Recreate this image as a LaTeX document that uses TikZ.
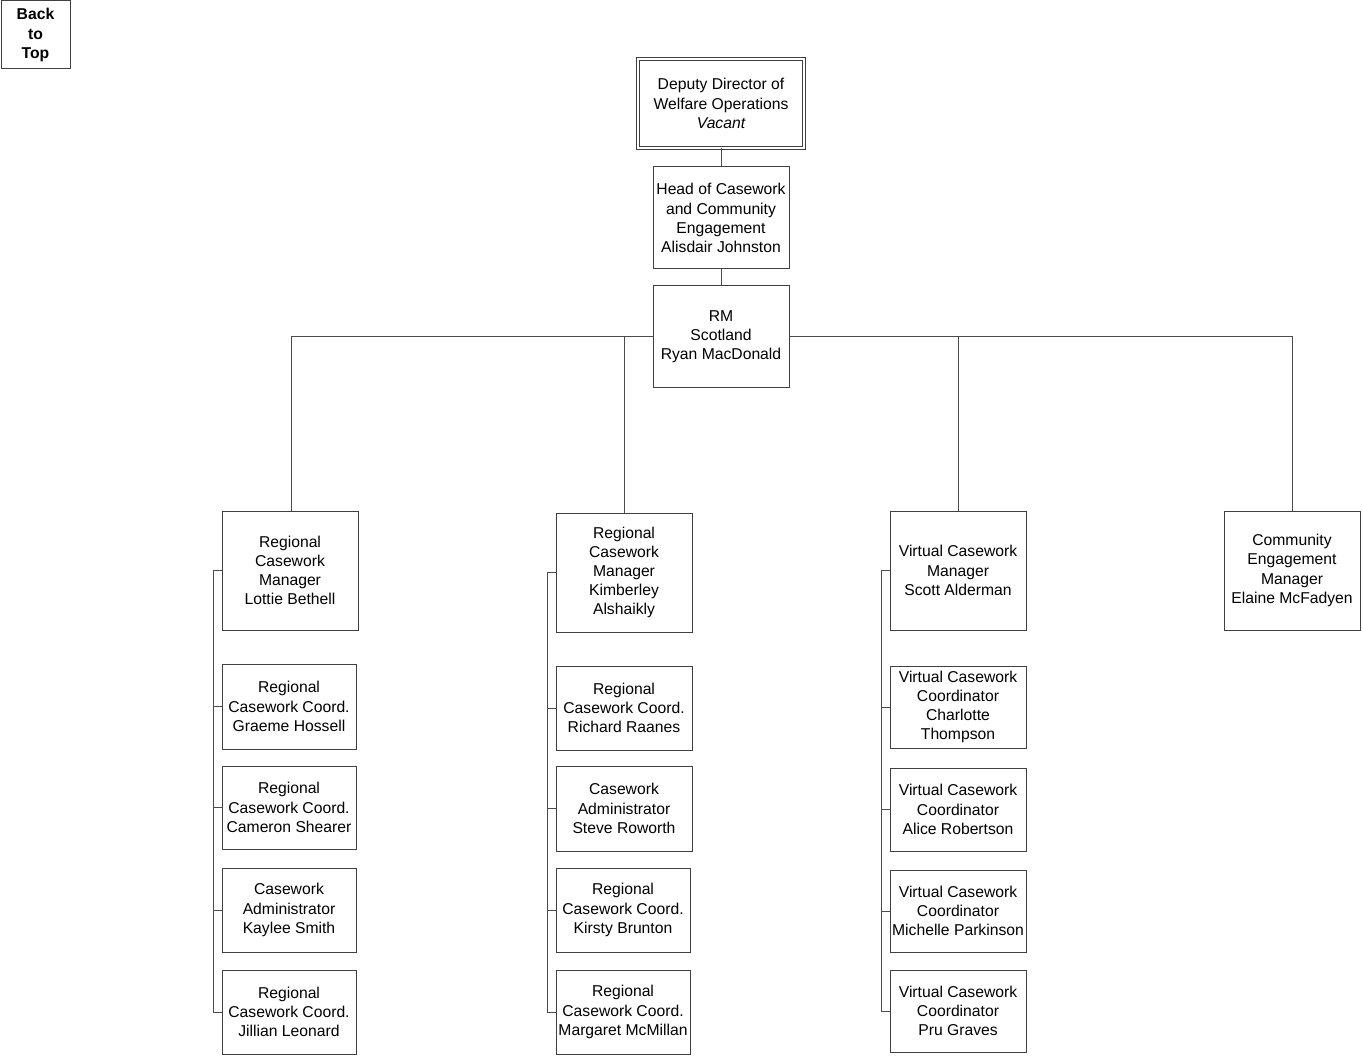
\documentclass[tikz,border=0pt]{standalone}
\usepackage{fontspec}
\setmainfont{Liberation Sans}
\begin{document}
\begin{tikzpicture}[x=1pt,y=-1pt,
  box/.style={draw=black!75, fill=white, line width=1pt, inner sep=0pt, align=center,
    font=\fontsize{15.7}{19.2}\selectfont},
  conn/.style={draw=black!70, line width=1pt}]
\useasboundingbox (0,0) rectangle (1363,1056);
\newcommand{\bx}[6]{\node[box, minimum width=#4, minimum height=#5] (#1) at (#2,#3) {#6};}
% boxes
\bx{back}{35.5}{35}{69}{68}{\bfseries Back\\\bfseries to\\\bfseries Top}
\node[box, double, double distance=2.4pt, minimum width=166, minimum height=89] (dep) at (721,103.5)
  {Deputy Director of\\Welfare Operations\\\itshape Vacant};
\bx{head}{721}{218}{136}{102}{Head of Casework\\and Community\\Engagement\\Alisdair Johnston}
\bx{rm}{721}{337}{136}{102}{RM\\Scotland\\Ryan MacDonald}
\bx{m1}{290}{570.5}{136}{119}{Regional\\Casework\\Manager\\Lottie Bethell}
\bx{m2}{624}{572.5}{136}{119}{Regional\\Casework\\Manager\\Kimberley\\Alshaikly}
\bx{m3}{958}{570.5}{136}{119}{Virtual Casework\\Manager\\Scott Alderman}
\bx{m4}{1292}{570.5}{136}{119}{Community\\Engagement\\Manager\\Elaine McFadyen}
\bx{s11}{289}{706.5}{134}{85}{Regional\\Casework Coord.\\Graeme Hossell}
\bx{s12}{289}{807.5}{134}{83}{Regional\\Casework Coord.\\Cameron Shearer}
\bx{s13}{289}{910}{134}{84}{Casework\\Administrator\\Kaylee Smith}
\bx{s14}{289}{1012}{134}{84}{Regional\\Casework Coord.\\Jillian Leonard}
\bx{s21}{624}{708}{136}{84}{Regional\\Casework Coord.\\Richard Raanes}
\bx{s22}{624}{808.5}{136}{85}{Casework\\Administrator\\Steve Roworth}
\bx{s23}{623}{910}{134}{84}{Regional\\Casework Coord.\\Kirsty Brunton}
\bx{s24}{623}{1012}{134}{84}{Regional\\Casework Coord.\\Margaret McMillan}
\bx{s31}{958}{707}{136}{82}{Virtual Casework\\Coordinator\\Charlotte\\Thompson}
\bx{s32}{958}{809.5}{136}{83}{Virtual Casework\\Coordinator\\Alice Robertson}
\bx{s33}{958}{911}{136}{82}{Virtual Casework\\Coordinator\\Michelle Parkinson}
\bx{s34}{958}{1011}{136}{82}{Virtual Casework\\Coordinator\\Pru Graves}
% connectors
\path[conn] (dep.south) -- (head.north);
\path[conn] (head.south) -- (rm.north);
\path[conn] ([xshift=1pt]m1.north) |- (rm.west);
\path[conn] (m2.north) -- (m2.north |- rm.west);
\path[conn] (m3.north) |- (rm.east);
\path[conn] (m4.north) |- (rm.east);
% column buses
\path[conn] (m1.west) -- ++(-8,0) |- (s14.west);
\path[conn] (s11.west) -- ++(-8,0);
\path[conn] (s12.west) -- ++(-8,0);
\path[conn] (s13.west) -- ++(-8,0);
\path[conn] (m2.west) -- ++(-8,0) |- (s24.west);
\path[conn] (s21.west) -- ++(-8,0);
\path[conn] (s22.west) -- ++(-8,0);
\path[conn] (s23.west) -- ++(-8,0);
\path[conn] (m3.west) -- ++(-8,0) |- (s34.west);
\path[conn] (s31.west) -- ++(-8,0);
\path[conn] (s32.west) -- ++(-8,0);
\path[conn] (s33.west) -- ++(-8,0);
\end{tikzpicture}
\end{document}
